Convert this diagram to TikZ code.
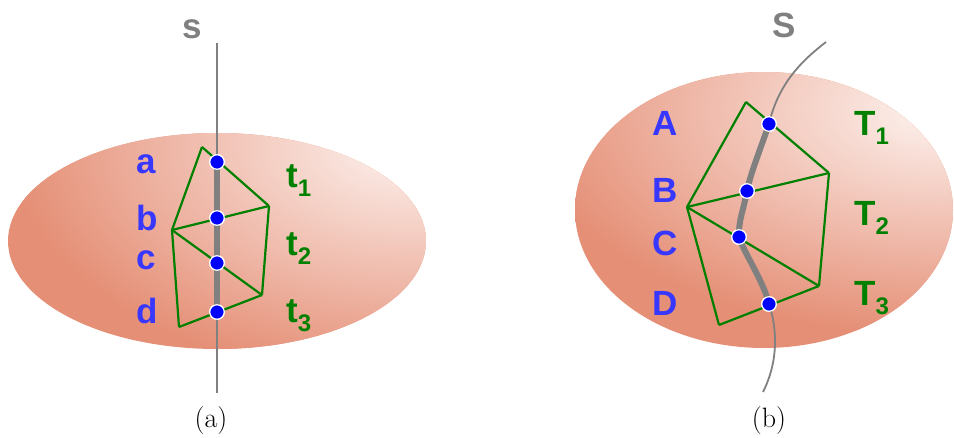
\documentclass[tikz,border=0pt]{standalone}
\usepackage{fontspec}
\setsansfont{Liberation Sans}
\definecolor{ellDark}{RGB}{229,143,118}
\definecolor{ellLight}{RGB}{253,243,240}
\definecolor{lblue}{RGB}{55,55,255}
\definecolor{lgreen}{RGB}{0,128,0}
\definecolor{sgray}{RGB}{128,128,128}
\definecolor{dotblue}{RGB}{0,0,255}
\newcommand{\mysub}[1]{\raisebox{-9pt}{\fontsize{24}{24}\selectfont #1}}
\begin{document}
\begin{tikzpicture}[x=1pt,y=-1pt,
  lab/.style={font=\sffamily\bfseries\fontsize{35}{35}\selectfont, inner sep=0pt, anchor=base west},
  bluelab/.style={lab, text=lblue},
  greenlab/.style={lab, text=lgreen},
  graylab/.style={lab, text=sgray},
  captext/.style={font=\fontsize{28}{28}\selectfont, inner sep=0pt},
  dotnode/.style={circle, fill=dotblue, draw=white, line width=1.2pt, minimum size=14.5pt, inner sep=0pt},
  gedge/.style={draw=lgreen, line width=2.2pt, line join=round},
  sline/.style={draw=sgray, line width=1.8pt},
  sthick/.style={draw=sgray, line width=6pt}
]
\useasboundingbox (0,0) rectangle (954,437);

% ---------- (a) ----------
\fill[ellDark] (217,241) ellipse [x radius=209, y radius=108];
\begin{scope}
  \clip (217,241) ellipse [x radius=209, y radius=108];
  \shade[inner color=ellLight, outer color=ellDark] (410,145) ellipse [x radius=400, y radius=235];
\end{scope}

\coordinate (stop) at (217,43);
\coordinate (sbot) at (217,393);
\node[dotnode] (a) at (217,162) {};
\node[dotnode] (b) at (217,218) {};
\node[dotnode] (c) at (217,263) {};
\node[dotnode] (d) at (217,312) {};
\draw[sline] (stop) -- (sbot);
\draw[sthick] (a.center) -- (d.center);

\coordinate (P1) at (202,147);
\coordinate (R1) at (269,206);
\coordinate (L)  at (172,230);
\coordinate (R2) at (262,295);
\coordinate (B)  at (179,327);
\draw[gedge] (P1) -- (R1);
\draw[gedge] (P1) -- (L);
\draw[gedge] (L) -- (R1);
\draw[gedge] (R1) -- (R2);
\draw[gedge] (L) -- (R2);
\draw[gedge] (L) -- (B);
\draw[gedge] (B) -- (R2);
\foreach \n in {a,b,c,d} \node[dotnode] at (\n) {};

\node[graylab] (ls) at (182,38) {s};
\node[bluelab] (la) at (136,173) {a};
\node[bluelab] (lb) at (136,230) {b};
\node[bluelab] (lc) at (136,269) {c};
\node[bluelab] (ld) at (136,323) {d};
\node[greenlab] (lt1) at (286,187) {t\mysub{1}};
\node[greenlab] (lt2) at (286,255) {t\mysub{2}};
\node[greenlab] (lt3) at (286,322) {t\mysub{3}};
\node[captext] (capa) at (211,421) {(a)};

% ---------- (b) ----------
\fill[ellDark] (764,210) ellipse [x radius=189, y radius=138];
\begin{scope}
  \clip (764,210) ellipse [x radius=189, y radius=138];
  \shade[inner color=ellLight, outer color=ellDark] (940,110) ellipse [x radius=420, y radius=225];
\end{scope}

\coordinate (Stop) at (826,42);
\coordinate (Sbot) at (763,392);
\node[dotnode] (A1) at (769,124) {};
\node[dotnode] (B1) at (747,191) {};
\node[dotnode] (C1) at (739,237) {};
\node[dotnode] (D1) at (769,304) {};
\draw[sline] (Stop) .. controls (800,62) and (778,85) .. (A1.center);
\draw[sline] (D1.center) .. controls (777,328) and (779,360) .. (Sbot);
\draw[sthick] (A1.center) .. controls (760,150) and (750,175) .. (B1.center)
   .. controls (744,208) and (738,222) .. (C1.center)
   .. controls (745,255) and (763,280) .. (D1.center);

\coordinate (Q1) at (746,102);
\coordinate (S1) at (829,173);
\coordinate (M)  at (687,207);
\coordinate (S2) at (819,286);
\coordinate (Q2) at (719,325);
\draw[gedge] (Q1) -- (S1);
\draw[gedge] (Q1) -- (M);
\draw[gedge] (M) -- (S1);
\draw[gedge] (S1) -- (S2);
\draw[gedge] (M) -- (S2);
\draw[gedge] (M) -- (Q2);
\draw[gedge] (Q2) -- (S2);
\foreach \n in {A1,B1,C1,D1} \node[dotnode] at (\n) {};

\node[graylab] (lS) at (772,37) {S};
\node[bluelab] (lA) at (652,135) {A};
\node[bluelab] (lB) at (652,202) {B};
\node[bluelab] (lC) at (652,255) {C};
\node[bluelab] (lD) at (652,315) {D};
\node[greenlab] (lT1) at (854,135) {T\mysub{1}};
\node[greenlab] (lT2) at (854,225) {T\mysub{2}};
\node[greenlab] (lT3) at (854,305) {T\mysub{3}};
\node[captext] (capb) at (769,421) {(b)};
\end{tikzpicture}
\end{document}
